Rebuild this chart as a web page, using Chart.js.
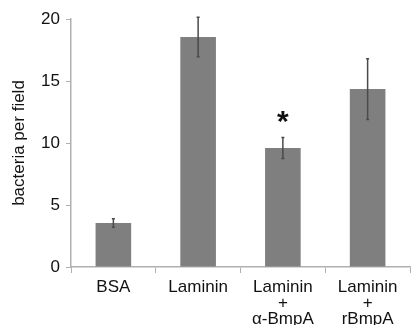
<!DOCTYPE html>
<html>
<head>
<meta charset="utf-8">
<script src="https://cdn.jsdelivr.net/npm/chart.js@4"></script>
<style>
  body { margin: 0; background: #fff; }
  #wrap { width: 411px; height: 325px; }
</style>
</head>
<body>
<div id="wrap"><canvas id="chart-cont" width="411" height="325"></canvas></div>
<script>
var categories = [["BSA"], ["Laminin"], ["Laminin", "+", "\u03b1-BmpA"], ["Laminin", "+", "rBmpA"]];
var values = [3.55, 18.55, 9.6, 14.35];
var errors = [0.35, 1.6, 0.85, 2.45];
var marks = ["", "", "*", ""];
var yTicks = [0, 5, 10, 15, 20];

// error bars + asterisk
var errorBarPlugin = {
    id: 'errorBars',
    afterDatasetsDraw: function(chart) {
        var ctx = chart.ctx;
        var meta = chart.getDatasetMeta(0);
        var y = chart.scales.y;
        ctx.save();
        meta.data.forEach(function(bar, i) {
            var top = y.getPixelForValue(values[i] + errors[i]);
            var bot = y.getPixelForValue(values[i] - errors[i]);
            ctx.strokeStyle = '#4a4a4a';
            ctx.lineWidth = 1.5;
            ctx.beginPath();
            ctx.moveTo(bar.x, top);
            ctx.lineTo(bar.x, bot);
            ctx.moveTo(bar.x - 1.5, top);
            ctx.lineTo(bar.x + 1.5, top);
            ctx.moveTo(bar.x - 1.5, bot);
            ctx.lineTo(bar.x + 1.5, bot);
            ctx.stroke();
            if (marks[i]) {
                ctx.fillStyle = '#111';
                ctx.font = 'bold 30px "Liberation Sans", Arial, sans-serif';
                ctx.textAlign = 'center';
                ctx.textBaseline = 'middle';
                ctx.fillText(marks[i], bar.x, top - 15);
            }
        });
        ctx.restore();
    }
};

var canvasElement = document.getElementById("chart-cont").getContext('2d');

var config = {
    type: "bar",
    data: {
        labels: categories,
        datasets: [{
            data: values,
            backgroundColor: '#7f7f7f',
            borderWidth: 0,
            barPercentage: 0.42,
            categoryPercentage: 1.0
        }]
    },
    plugins: [errorBarPlugin],
    options: {
        responsive: false,
        animation: false,
        layout: { padding: { top: 19, right: 1, left: 0, bottom: 0 } },
        plugins: {
            legend: { display: false },
            tooltip: { enabled: false }
        },
        scales: {
            x: {
                grid: { display: true, drawOnChartArea: false, tickLength: 6, color: '#b0b0b0', offset: true },
                border: { color: '#b0b0b0', width: 1.5 },
                ticks: {
                    color: '#111',
                    font: { family: '"Liberation Sans", Arial, sans-serif', size: 17, lineHeight: 0.94 },
                    padding: 6,
                    maxRotation: 0
                },
                afterFit: function(scale) { scale.height = 58; }
            },
            y: {
                min: 0,
                max: 20,
                afterBuildTicks: function(scale) {
                    scale.ticks = yTicks.map(function(v) { return { value: v }; });
                },
                grid: { display: true, drawOnChartArea: false, tickLength: 5, color: '#b0b0b0' },
                border: { color: '#b0b0b0', width: 1.5 },
                ticks: {
                    color: '#111',
                    font: { family: '"Liberation Sans", Arial, sans-serif', size: 17 },
                    padding: 6
                },
                title: {
                    display: true,
                    text: 'bacteria per field',
                    color: '#111',
                    font: { family: '"Liberation Sans", Arial, sans-serif', size: 17 },
                    padding: { top: 9, bottom: 0 }
                },
                afterFit: function(scale) { scale.width = 71; }
            }
        }
    }
};

var chart = new Chart(canvasElement, config);
</script>
</body>
</html>
